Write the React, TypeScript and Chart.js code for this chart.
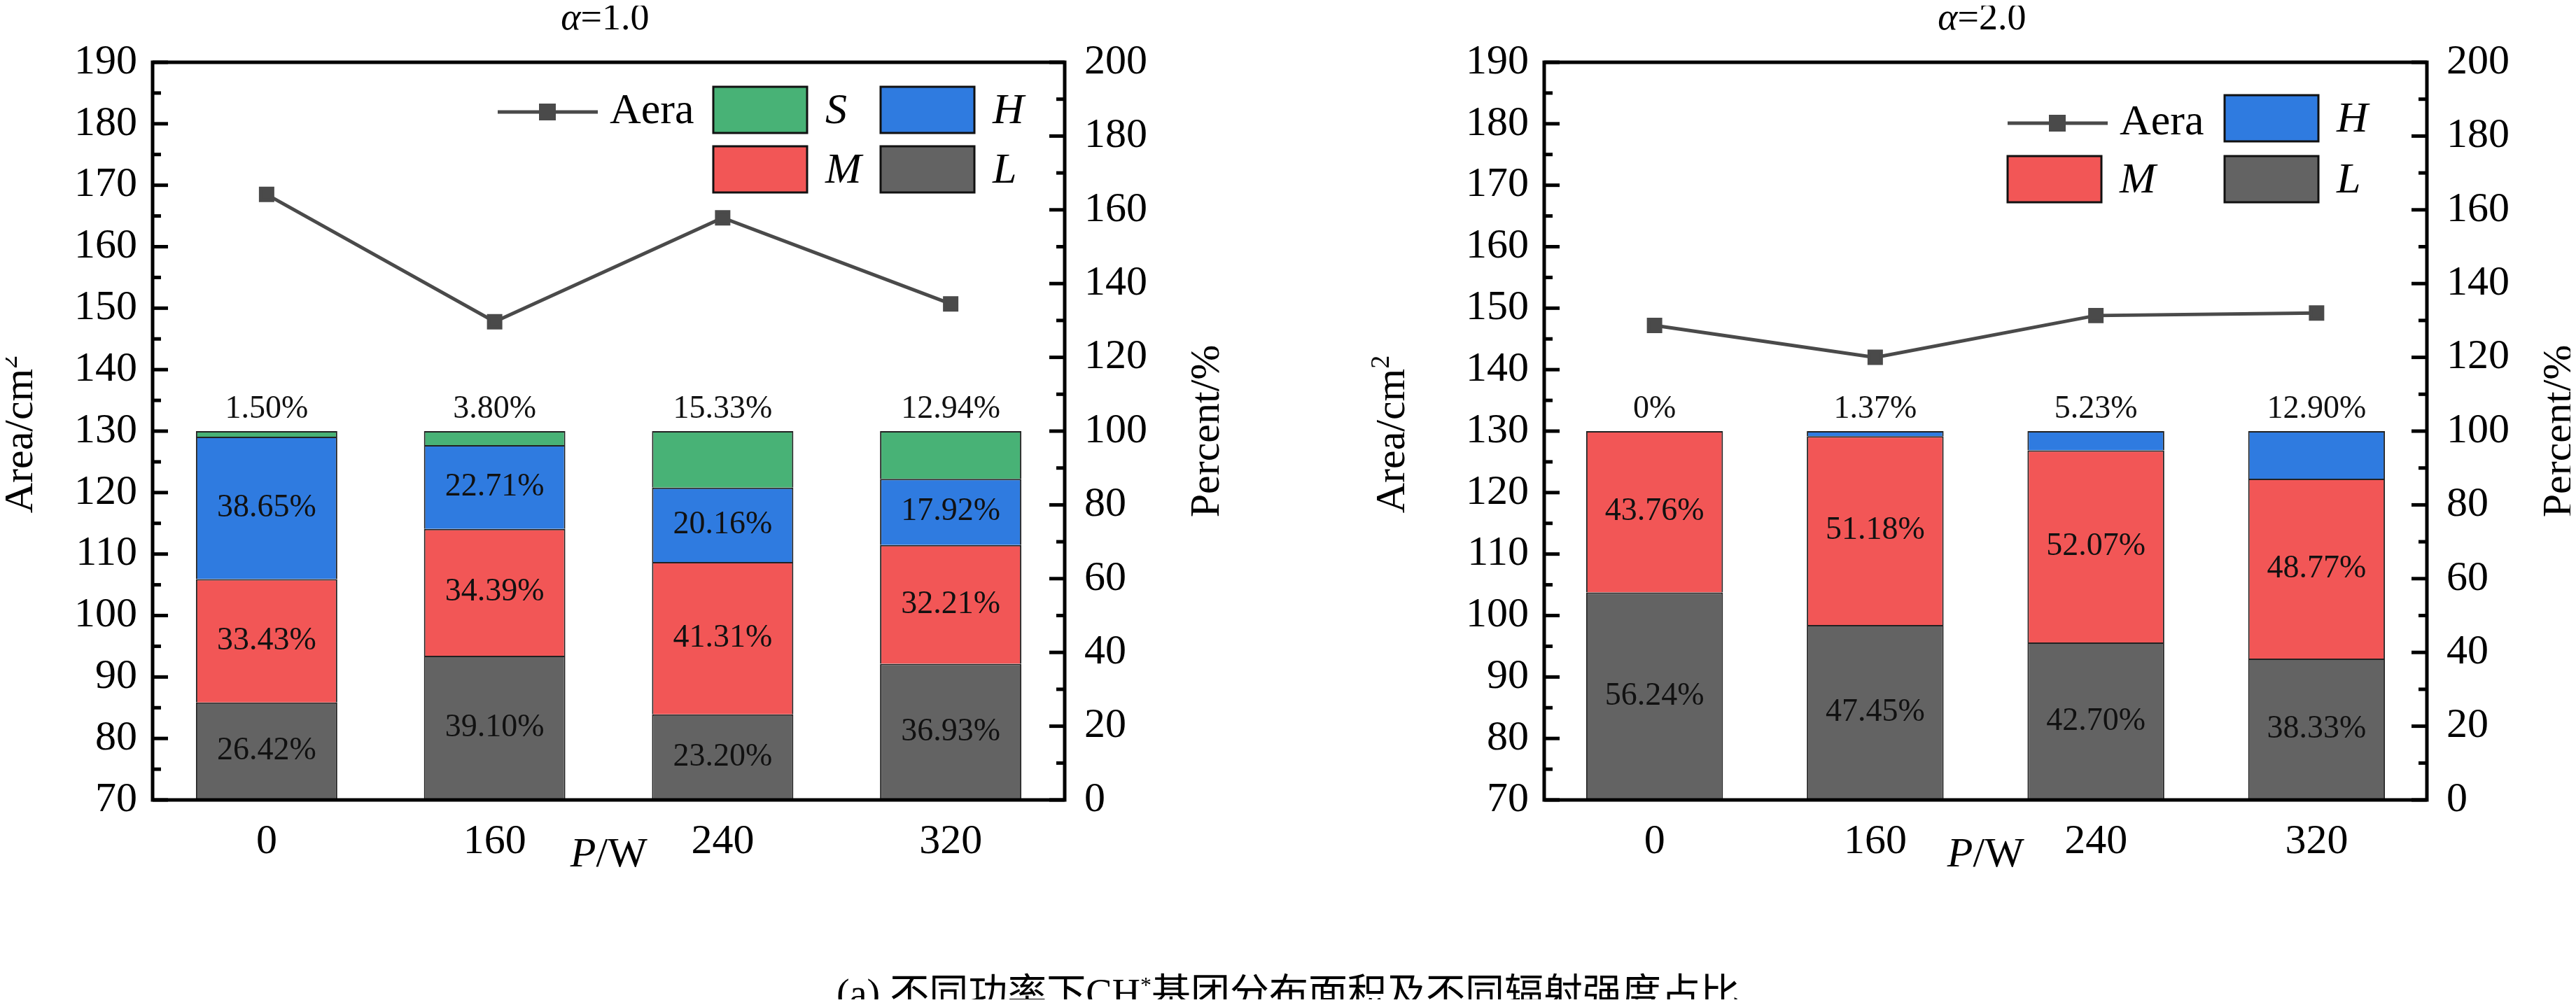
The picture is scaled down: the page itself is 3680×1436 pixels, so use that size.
import React, { useEffect, useRef } from "react";
import { Chart, registerables } from "chart.js";
Chart.register(...registerables);

const categories = ["0", "160", "240", "320"];
// alpha = 1.0
const areaA1 = [168.5, 147.8, 164.7, 150.7];
const lA1 = [26.42, 39.1, 23.2, 36.93];
const mA1 = [33.43, 34.39, 41.31, 32.21];
const hA1 = [38.65, 22.71, 20.16, 17.92];
const sA1 = [1.5, 3.8, 15.33, 12.94];
// alpha = 2.0
const areaA2 = [147.2, 142.0, 148.8, 149.2];
const lA2 = [56.24, 47.45, 42.7, 38.33];
const mA2 = [43.76, 51.18, 52.07, 48.77];
const hA2 = [0, 1.37, 5.23, 12.9];
const labelsA1Top = ["1.50%", "3.80%", "15.33%", "12.94%"];
const labelsA2Top = ["0%", "1.37%", "5.23%", "12.90%"];

const C_L = "#636363", C_M = "#f25656", C_H = "#2f7be0", C_S = "#48b276", C_LINE = "#4a4a4a";
const SERIF = "'Liberation Serif', 'Times New Roman', serif";

type Cfg = {
  title: string; area: number[]; stacks: { key: string; data: number[]; color: string; inside: boolean }[];
  topLabels: string[]; areaW: number; rightW: number; yTitleX: number; y1TitleX: number;
  legend: { lineX: number; lineY: number; boxes: { key: string; color: string; x: number; y: number }[] };
};

const fmt = (v: number) => v.toFixed(2) + "%";

function ChartPanel({ cfg }: { cfg: Cfg }) {
  const ref = useRef<HTMLCanvasElement>(null);
  useEffect(() => {
    const datasets: any[] = [
      {
        type: "line", label: "Aera", data: cfg.area, yAxisID: "y", borderColor: C_LINE, backgroundColor: C_LINE,
        borderWidth: 5, pointStyle: "rect", pointRadius: 12, order: 0,
      },
      ...cfg.stacks.map((s) => ({
        type: "bar", label: s.key, data: s.data, yAxisID: "y1", backgroundColor: s.color, borderColor: "#222",
        borderWidth: 2, stack: "p", barPercentage: 0.62, categoryPercentage: 1, order: 1,
      })),
    ];
    const plugin = {
      id: "deco",
      afterDraw(chart: any) {
        const ctx = chart.ctx as CanvasRenderingContext2D;
        const a = chart.chartArea; const y = chart.scales.y; const y1 = chart.scales.y1; const x = chart.scales.x;
        ctx.save();
        // ticks inside
        ctx.strokeStyle = "#000"; ctx.lineWidth = 5;
        for (let v = 70; v <= 190; v += 5) {
          const py = y.getPixelForValue(v); const len = v % 10 === 0 ? 22 : 12;
          ctx.beginPath(); ctx.moveTo(a.left, py); ctx.lineTo(a.left + len, py); ctx.stroke();
        }
        for (let v = 0; v <= 200; v += 10) {
          const py = y1.getPixelForValue(v); const len = v % 20 === 0 ? 22 : 12;
          ctx.beginPath(); ctx.moveTo(a.right, py); ctx.lineTo(a.right - len, py); ctx.stroke();
        }
        ctx.lineWidth = 5;
        ctx.strokeRect(a.left, a.top, a.right - a.left, a.bottom - a.top);
        // bar labels
        ctx.fillStyle = "#111"; ctx.font = `46px ${SERIF}`; ctx.textAlign = "center"; ctx.textBaseline = "middle";
        categories.forEach((_, i) => {
          let cum = 0;
          const px = x.getPixelForValue(i);
          cfg.stacks.forEach((s) => {
            const v = s.data[i];
            if (s.inside) ctx.fillText(fmt(v), px, y1.getPixelForValue(cum + v / 2));
            cum += v;
          });
          ctx.textBaseline = "bottom";
          ctx.fillText(cfg.topLabels[i], px, y1.getPixelForValue(100) - 8);
          ctx.textBaseline = "middle";
        });
        // legend
        const L = cfg.legend;
        ctx.strokeStyle = C_LINE; ctx.lineWidth = 5; ctx.fillStyle = C_LINE;
        const lx = a.left + L.lineX, ly = a.top + L.lineY;
        ctx.beginPath(); ctx.moveTo(lx, ly); ctx.lineTo(lx + 143, ly); ctx.stroke();
        ctx.fillRect(lx + 71 - 12, ly - 12, 24, 24);
        ctx.fillStyle = "#000"; ctx.font = `62px ${SERIF}`; ctx.textAlign = "left";
        ctx.fillText("Aera", lx + 160, ly);
        L.boxes.forEach((b) => {
          const bx = a.left + b.x, by = a.top + b.y;
          ctx.fillStyle = b.color; ctx.fillRect(bx, by, 134, 66);
          ctx.strokeStyle = "#111"; ctx.lineWidth = 3; ctx.strokeRect(bx, by, 134, 66);
          ctx.fillStyle = "#000"; ctx.font = `italic 62px ${SERIF}`; ctx.textAlign = "left";
          ctx.fillText(b.key, bx + 160, by + 36);
        });
        // axis titles
        ctx.font = `60px ${SERIF}`; ctx.textAlign = "center"; ctx.textBaseline = "middle";
        const cy = (a.top + a.bottom) / 2;
        ctx.save(); ctx.translate(cfg.yTitleX, cy); ctx.rotate(-Math.PI / 2);
        ctx.fillText("Area/cm", -14, 0);
        ctx.font = `38px ${SERIF}`; ctx.textAlign = "left";
        const w = (() => { ctx.font = `60px ${SERIF}`; return ctx.measureText("Area/cm").width; })();
        ctx.font = `38px ${SERIF}`; ctx.fillText("2", -14 + w / 2, -16);
        ctx.restore();
        ctx.save(); ctx.translate(cfg.y1TitleX, cy); ctx.rotate(-Math.PI / 2);
        ctx.font = `60px ${SERIF}`; ctx.textAlign = "center"; ctx.fillText("Percent/%", 0, 0); ctx.restore();
        const cx = (a.left + a.right) / 2;
        ctx.font = `italic 60px ${SERIF}`; ctx.textAlign = "right"; ctx.fillText("P", cx - 18, 1222);
        ctx.font = `60px ${SERIF}`; ctx.textAlign = "left"; ctx.fillText("/W", cx - 18, 1222);
        // title
        ctx.font = `italic 54px ${SERIF}`; ctx.textAlign = "right"; ctx.fillText("α", cx - 40, 28);
        ctx.font = `54px ${SERIF}`; ctx.textAlign = "left"; ctx.fillText(cfg.title, cx - 40, 28);
        ctx.restore();
      },
    };
    const chart = new Chart(ref.current!, {
      type: "bar",
      data: { labels: categories, datasets },
      options: {
        animation: false, responsive: false,
        layout: { padding: { top: 89, left: 0, right: 0, bottom: 0 } },
        plugins: { legend: { display: false }, tooltip: { enabled: false } },
        scales: {
          x: {
            grid: { display: false, drawTicks: false }, border: { display: false },
            ticks: { font: { family: SERIF, size: 60 }, color: "#000", padding: 24 },
            afterFit: (s: any) => { s.height = 1436 - 1143; },
          },
          y: {
            position: "left", min: 70, max: 190, grid: { display: false, drawTicks: false }, border: { display: false },
            ticks: { stepSize: 10, font: { family: SERIF, size: 60 }, color: "#000", padding: 22 },
            afterFit: (s: any) => { s.width = cfg.areaW; },
          },
          y1: {
            position: "right", min: 0, max: 200, stacked: true, grid: { display: false, drawTicks: false }, border: { display: false },
            ticks: { stepSize: 20, font: { family: SERIF, size: 60 }, color: "#000", padding: 28 },
            afterFit: (s: any) => { s.width = cfg.rightW; },
          },
        },
      } as any,
      plugins: [plugin],
    });
    return () => chart.destroy();
  }, []);
  return <canvas ref={ref} width={1840} height={1436} style={{ width: 1840, height: 1436, display: "block" }} />;
}

const cfg1: Cfg = {
  title: "=1.0", area: areaA1,
  stacks: [
    { key: "L", data: lA1, color: C_L, inside: true },
    { key: "M", data: mA1, color: C_M, inside: true },
    { key: "H", data: hA1, color: C_H, inside: true },
    { key: "S", data: sA1, color: C_S, inside: false },
  ],
  topLabels: labelsA1Top, areaW: 218, rightW: 319, yTitleX: 30, y1TitleX: 1725,
  legend: {
    lineX: 493, lineY: 71,
    boxes: [
      { key: "S", color: C_S, x: 801, y: 35 }, { key: "H", color: C_H, x: 1040, y: 35 },
      { key: "M", color: C_M, x: 801, y: 120 }, { key: "L", color: C_L, x: 1040, y: 120 },
    ],
  },
};
const cfg2: Cfg = {
  title: "=2.0", area: areaA2,
  stacks: [
    { key: "L", data: lA2, color: C_L, inside: true },
    { key: "M", data: mA2, color: C_M, inside: true },
    { key: "H", data: hA2, color: C_H, inside: false },
  ],
  topLabels: labelsA2Top, areaW: 366, rightW: 213, yTitleX: 150, y1TitleX: 1817,
  legend: {
    lineX: 662, lineY: 87,
    boxes: [
      { key: "H", color: C_H, x: 972, y: 47 },
      { key: "M", color: C_M, x: 662, y: 134 }, { key: "L", color: C_L, x: 972, y: 134 },
    ],
  },
};

export default function App() {
  return (
    <div style={{ position: "relative", width: 3680, height: 1436, background: "#fff", margin: -8 }}>
      <div style={{ position: "absolute", left: 0, top: 0 }}><ChartPanel cfg={cfg1} /></div>
      <div style={{ position: "absolute", left: 1840, top: 0 }}><ChartPanel cfg={cfg2} /></div>
      <div style={{
        position: "absolute", left: 0, width: 3680, top: 1372, textAlign: "center",
        fontFamily: "'Liberation Serif', 'Noto Sans CJK SC', serif", fontSize: 56, lineHeight: "70px", color: "#000",
      }}>
        (a) 不同功率下CH<sup style={{ fontSize: 32 }}>*</sup>基团分布面积及不同辐射强度占比
      </div>
    </div>
  );
}
